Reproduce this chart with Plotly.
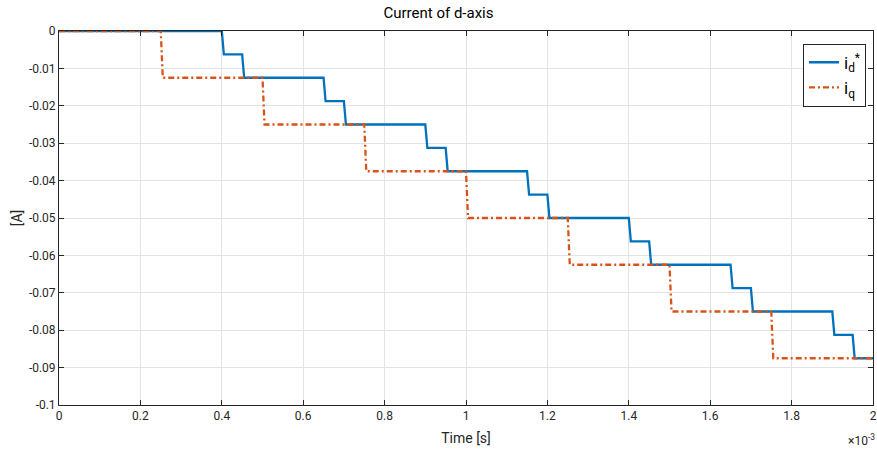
import plotly.graph_objects as go

# step change times (s) and levels (A)
id_times = [0.40e-3, 0.45e-3, 0.65e-3, 0.70e-3, 0.90e-3, 0.95e-3, 1.15e-3, 1.20e-3,
            1.40e-3, 1.45e-3, 1.65e-3, 1.70e-3, 1.90e-3, 1.95e-3]
id_levels = [0, -0.00625, -0.0125, -0.01875, -0.025, -0.03125, -0.0375, -0.04375,
             -0.05, -0.05625, -0.0625, -0.06875, -0.075, -0.08125, -0.0875]
iq_times = [0.25e-3, 0.50e-3, 0.75e-3, 1.00e-3, 1.25e-3, 1.50e-3, 1.75e-3]
iq_levels = [0, -0.0125, -0.025, -0.0375, -0.05, -0.0625, -0.075, -0.0875]
t_end = 2e-3
sample_dt = 5e-6

x_ticks = [0, 0.2e-3, 0.4e-3, 0.6e-3, 0.8e-3, 1.0e-3, 1.2e-3, 1.4e-3, 1.6e-3, 1.8e-3, 2.0e-3]
x_tick_labels = ["0", "0.2", "0.4", "0.6", "0.8", "1", "1.2", "1.4", "1.6", "1.8", "2"]
y_ticks = [0, -0.01, -0.02, -0.03, -0.04, -0.05, -0.06, -0.07, -0.08, -0.09, -0.1]
y_tick_labels = ["0", "-0.01", "-0.02", "-0.03", "-0.04", "-0.05", "-0.06", "-0.07", "-0.08", "-0.09", "-0.1"]


def steps(times, levels):
    xs, ys = [0.0], [levels[0]]
    for i, t in enumerate(times):
        xs += [t, t + sample_dt]
        ys += [levels[i], levels[i + 1]]
    xs.append(t_end)
    ys.append(levels[-1])
    return xs, ys


bx, by = steps(id_times, id_levels)
ox, oy = steps(iq_times, iq_levels)

FONT = "Roboto, Arial, sans-serif"

fig = go.Figure()
fig.add_trace(go.Scatter(x=bx, y=by, mode="lines", name="i<sub>d</sub><sup>*</sup>",
                         line=dict(color="#0072BD", width=2.3)))
fig.add_trace(go.Scatter(x=ox, y=oy, mode="lines", name="i<sub>q</sub>",
                         line=dict(color="#D95319", width=2.3, dash="6px,3px,2px,3px")))

axis_common = dict(showline=True, linecolor="#262626", linewidth=1, mirror="ticks",
                   ticks="inside", ticklen=5, tickcolor="#262626",
                   showgrid=True, gridcolor="#e3e3e3", gridwidth=1, zeroline=False,
                   automargin=False,
                   tickfont=dict(family=FONT, size=12, color="#262626"))

fig.update_xaxes(range=[0, t_end], tickvals=x_ticks, ticktext=x_tick_labels,
                 title=dict(text="Time [s]", standoff=10,
                            font=dict(family=FONT, size=14, color="#262626")),
                 **axis_common)
fig.update_yaxes(range=[-0.1, 0], tickvals=y_ticks, ticktext=y_tick_labels,
                 title=dict(text="[A]", standoff=2,
                            font=dict(family=FONT, size=14, color="#262626")),
                 **axis_common)

fig.update_layout(
    width=877, height=455,
    margin=dict(l=59, r=4, t=31, b=50, autoexpand=False),
    plot_bgcolor="white", paper_bgcolor="white",
    title=dict(text="Current of d-axis", x=0.5, xanchor="center", y=0.972, yanchor="middle",
               font=dict(family=FONT, size=15, color="#000000")),
    legend=dict(x=0.9914, y=0.966, xanchor="right", yanchor="top",
                bordercolor="#262626", borderwidth=1, bgcolor="white",
                font=dict(family=FONT, size=17, color="#000000"),
                itemwidth=30),
    showlegend=True,
)

fig.add_annotation(x=1, y=0, xref="paper", yref="paper", xanchor="right", yanchor="top",
                   xshift=4, yshift=-25, showarrow=False, text="×10<sup>-3</sup>",
                   font=dict(family=FONT, size=12, color="#262626"))

fig.write_html("out.html", config={"displayModeBar": False},
               post_script="document.body.style.margin='0';document.body.style.overflow='hidden';")
